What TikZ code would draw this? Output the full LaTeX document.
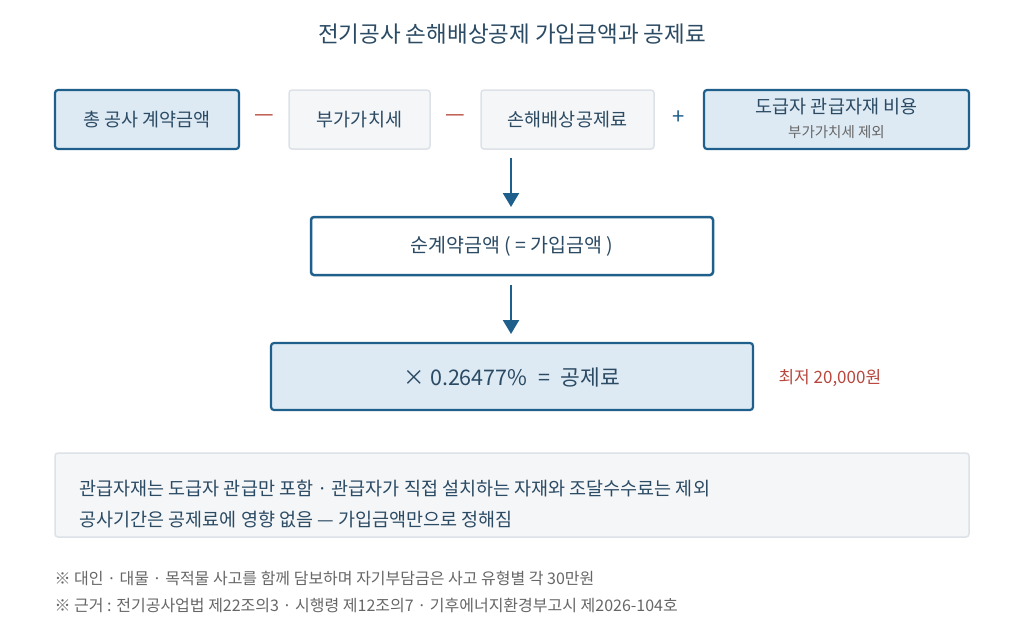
\documentclass[tikz,border=0pt]{standalone}
\usepackage{fontspec}
\setmainfont{Noto Sans CJK KR}
\usetikzlibrary{arrows.meta}
\definecolor{dk}{HTML}{1F5F8B}
\definecolor{lb}{HTML}{DDEAF4}
\definecolor{gb}{HTML}{F4F6F8}
\definecolor{gl}{HTML}{DCE2E7}
\definecolor{tx}{HTML}{2B4A63}
\definecolor{rd}{HTML}{B8483E}
\definecolor{ft}{HTML}{666666}
\begin{document}
\begin{tikzpicture}[x=1pt,y=-1pt,
 blue/.style={draw=dk,line width=2.2pt,fill=lb,rounded corners=3pt},
 gray/.style={draw=gl,line width=1.5pt,fill=gb,rounded corners=3pt},
 lbl/.style={text=tx,font=\fontsize{18.5}{20}\selectfont},
 op/.style={font=\fontsize{22}{22}\selectfont},
 arr/.style={draw=dk,line width=2.2pt,-{Triangle[length=14pt,width=16pt]}}]
\useasboundingbox (0,0) rectangle (1024,633);
\node[lbl,font=\fontsize{22.5}{24}\selectfont] (title) at (512,34) {전기공사 손해배상공제 가입금액과 공제료};
\draw[blue] (55,90) rectangle (239,149); \node[lbl] (a) at (147,119.5) {총 공사 계약금액};
\draw[gray] (289,90) rectangle (430,149); \node[lbl] (b) at (359.5,119.5) {부가가치세};
\draw[gray] (481,90) rectangle (654,149); \node[lbl] (c) at (567.5,119.5) {손해배상공제료};
\draw[blue] (704,90) rectangle (969,149);
\node[lbl] (d) at (836.5,107) {도급자 관급자재 비용};
\node[text=ft,font=\fontsize{14.5}{16}\selectfont] (d2) at (836.5,132) {부가가치세 제외};
\node[op,text=rd] (m1) at (264,118) {—};
\node[op,text=rd] (m2) at (455,118) {—};
\node[op,text=dk] (p1) at (679,118) {+};
\coordinate (s1) at (511,158); \coordinate (e1) at (511,207);
\draw[arr] (s1) -- (e1);
\draw[draw=dk,line width=2.5pt,fill=white,rounded corners=3pt] (311,217) rectangle (713,275);
\node[lbl,font=\fontsize{19.5}{21}\selectfont] (e) at (512,246) {순계약금액 ( = 가입금액 )};
\coordinate (s2) at (511,285); \coordinate (e2) at (511,334);
\draw[arr] (s2) -- (e2);
\draw[blue] (271,343) rectangle (753,410);
\node[lbl,font=\fontsize{21.5}{23}\selectfont] (f) at (512,377) {× 0.26477\%\enspace =\enspace 공제료};
\node[text=rd,font=\fontsize{17}{19}\selectfont,anchor=west] (g) at (775,378) {최저 20,000원};
\draw[gray] (55,453) rectangle (969,537);
\node[lbl,anchor=west] (n1) at (76,489) {관급자재는 도급자 관급만 포함 · 관급자가 직접 설치하는 자재와 조달수수료는 제외};
\node[lbl,anchor=west] (n2) at (76,519) {공사기간은 공제료에 영향 없음 — 가입금액만으로 정해짐};
\node[text=ft,font=\fontsize{16}{18}\selectfont,anchor=west] (f1) at (51,578) {※ 대인 · 대물 · 목적물 사고를 함께 담보하며 자기부담금은 사고 유형별 각 30만원};
\node[text=ft,font=\fontsize{16}{18}\selectfont,anchor=west] (f2) at (51,605) {※ 근거 : 전기공사업법 제22조의3 · 시행령 제12조의7 · 기후에너지환경부고시 제2026-104호};
\end{tikzpicture}
\end{document}
